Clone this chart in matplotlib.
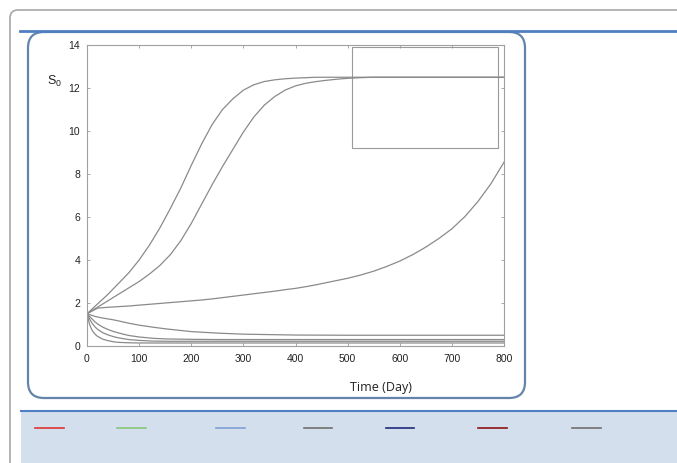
import matplotlib
matplotlib.use('Agg')
import matplotlib.pyplot as plt
from matplotlib.patches import FancyBboxPatch, Rectangle
from matplotlib.lines import Line2D
from matplotlib.transforms import IdentityTransform

# growth curves, time grid (days)
t_grow = [0, 20, 40, 60, 80, 100, 120, 140, 160, 180, 200, 220, 240, 260, 280,
          300, 320, 340, 360, 380, 400, 420, 440, 460, 480, 500,
          525, 550, 575, 600, 625, 650, 675, 700, 725, 750, 775, 800]
s_fast = [1.5, 1.95, 2.4, 2.9, 3.4, 4.0, 4.7, 5.5, 6.4, 7.35, 8.4, 9.4, 10.3, 11.0,
          11.5, 11.9, 12.15, 12.3, 12.38, 12.43, 12.46, 12.48, 12.5, 12.5, 12.5, 12.5,
          12.5, 12.5, 12.5, 12.5, 12.5, 12.5, 12.5, 12.5, 12.5, 12.5, 12.5, 12.5]
s_mid = [1.5, 1.8, 2.1, 2.4, 2.7, 3.0, 3.35, 3.75, 4.25, 4.9, 5.7, 6.6, 7.5, 8.35,
         9.15, 9.95, 10.65, 11.2, 11.6, 11.9, 12.1, 12.22, 12.3, 12.36, 12.41, 12.45,
         12.48, 12.5, 12.5, 12.5, 12.5, 12.5, 12.5, 12.5, 12.5, 12.5, 12.5, 12.5]
s_slow = [1.5, 1.76, 1.8, 1.83, 1.86, 1.9, 1.94, 1.98, 2.02, 2.06, 2.1, 2.14, 2.19,
          2.25, 2.31, 2.37, 2.43, 2.49, 2.55, 2.62, 2.68, 2.76, 2.85, 2.95, 3.05, 3.15,
          3.3, 3.48, 3.7, 3.95, 4.25, 4.6, 5.0, 5.45, 6.02, 6.72, 7.55, 8.55]

# decaying curves, finer grid near the start
t_dec = [0, 5, 10, 15, 20, 30, 40, 50, 60, 80, 100, 125, 150, 200, 250, 300,
         400, 500, 600, 700, 800]
s_dec1 = [1.5, 1.46, 1.42, 1.38, 1.35, 1.3, 1.26, 1.22, 1.17, 1.06, 0.97, 0.88, 0.8,
          0.67, 0.6, 0.55, 0.51, 0.5, 0.5, 0.5, 0.5]
s_dec2 = [1.5, 1.37, 1.25, 1.13, 1.03, 0.88, 0.77, 0.68, 0.61, 0.49, 0.42, 0.36, 0.33,
          0.31, 0.3, 0.3, 0.3, 0.3, 0.3, 0.3, 0.3]
s_dec3 = [1.5, 1.25, 1.05, 0.9, 0.78, 0.62, 0.52, 0.44, 0.38, 0.3, 0.26, 0.23, 0.22,
          0.22, 0.22, 0.22, 0.22, 0.22, 0.22, 0.22, 0.22]
s_dec4 = [1.5, 1.0, 0.72, 0.56, 0.45, 0.32, 0.25, 0.2, 0.17, 0.15, 0.14, 0.14, 0.14,
          0.14, 0.14, 0.14, 0.14, 0.14, 0.14, 0.14, 0.14]

x_ticks = [0, 100, 200, 300, 400, 500, 600, 700, 800]
y_ticks = [0, 2, 4, 6, 8, 10, 12, 14]

# legend strip colours (labels are empty in the source)
legend_colors = ['#e03535', '#88c878', '#7f9fd6', '#707070', '#1e2a78', '#8b1414', '#707070']
legend_x = [(35, 64), (117, 146), (216, 245), (304, 332), (386, 414), (478, 507), (572, 601)]

W, H = 677, 463
fig = plt.figure(figsize=(W / 100, H / 100), dpi=100)
fig.patch.set_facecolor('white')
px = IdentityTransform()


def rbox(x0, y0, x1, y1, r, **kw):
    # pixel box given with top-left origin
    p = FancyBboxPatch((x0, H - y1), x1 - x0, y1 - y0,
                       boxstyle='round,pad=0,rounding_size=%d' % r,
                       transform=px, zorder=-3, **kw)
    fig.add_artist(p)


def hline(x0, x1, y, **kw):
    fig.add_artist(Line2D([x0, x1], [H - y, H - y], transform=px, zorder=-2, **kw))


# page frame
rbox(10, 10, W + 30, H + 30, 8, facecolor='white', edgecolor='#a8a8a8', lw=1.2)
hline(20, W, 31, color='#4f7fc0', lw=2)
# figure panel
rbox(28, 32, 525, 398, 16, facecolor='white', edgecolor='#6484aa', lw=1.6)
# bottom legend panel
fig.add_artist(Rectangle((21, 0), W - 21, H - 411, transform=px, zorder=-3,
                         facecolor='#d3dfec', edgecolor='none'))
hline(21, W, 411, color='#4f7fc0', lw=1.5)
for c, (a, b) in zip(legend_colors, legend_x):
    hline(a, b, 428, color=c, lw=1.2)

ax = fig.add_axes([87 / W, 1 - 346 / H, (504 - 87) / W, (346 - 45) / H])
ax.set_zorder(5)
for s in [s_fast, s_mid, s_slow]:
    ax.plot(t_grow, s, color='#8a8a8a', lw=0.9)
for s in [s_dec1, s_dec2, s_dec3, s_dec4]:
    ax.plot(t_dec, s, color='#8a8a8a', lw=0.9)

ax.add_patch(Rectangle((508, 9.2), 280, 4.7, facecolor='none', edgecolor='#9a9a9a', lw=0.8))

ax.set_xlim(0, 800)
ax.set_ylim(0, 14)
ax.set_xticks(x_ticks)
ax.set_yticks(y_ticks)
tick_font = ['Liberation Sans Narrow', 'Liberation Sans', 'DejaVu Sans']
ax.set_xticklabels([str(v) for v in x_ticks], family=tick_font, fontsize=7.5, color='#222')
ax.set_yticklabels([str(v) for v in y_ticks], family=tick_font, fontsize=7.5, color='#222')
ax.tick_params(direction='in', top=True, right=True, length=2.5, width=0.6,
               color='#999999')
ax.tick_params(axis='x', pad=6)
ax.tick_params(axis='y', pad=5)
for sp in ax.spines.values():
    sp.set_color('#a0a0a0')
    sp.set_linewidth(0.8)

fig.text(47 / W, 1 - 81 / H, r'$\mathregular{S_0}$', fontsize=9, color='#222',
         family=tick_font, va='center')
fig.text(381 / W, 1 - 387 / H, 'Time (Day)', fontsize=9, color='#222',
         family=['Open Sans', 'DejaVu Sans'], ha='center', va='center')

fig.savefig('out.png', dpi=100)
